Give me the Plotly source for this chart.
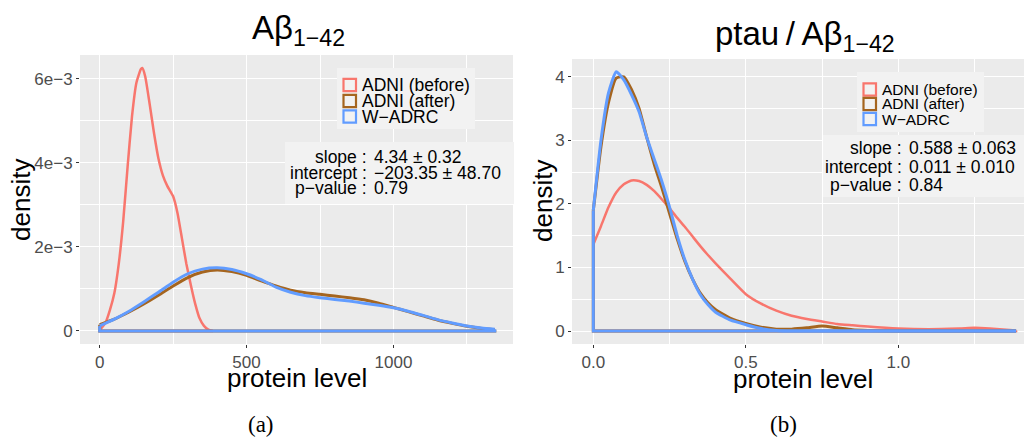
import plotly.graph_objects as go

W, H = 1024, 440

# ---------------- data ----------------
series_names = ["ADNI (before)", "ADNI (after)", "W\u2212ADRC"]
series_colors = ["#F8766D", "#A5651F", "#619CFF"]
series_widths = [2.5, 3, 3]

# Panel (a): Abeta 1-42
a_x_before = [0, 20, 35, 50, 65, 80, 95, 110, 125, 140, 145, 155, 170, 185, 200, 215, 230,
              250, 265, 280, 295, 310, 325, 340, 355, 370, 385]
a_y_before = [0.02, 0.2, 0.5, 0.9, 1.6, 2.6, 3.9, 5.1, 5.9, 6.22, 6.25, 6.05, 5.4, 4.7, 4.1,
              3.7, 3.45, 3.2, 2.8, 2.2, 1.6, 1.1, 0.65, 0.3, 0.12, 0.03, 0.0]
a_x_grid = [0, 50, 100, 150, 200, 250, 300, 350, 400, 450, 500, 550, 600, 650, 700, 750, 800,
            850, 900, 950, 1000, 1050, 1100, 1150, 1200, 1250, 1300, 1345]
a_y_after = [0.15, 0.28, 0.45, 0.64, 0.85, 1.07, 1.27, 1.40, 1.45, 1.41, 1.32, 1.19, 1.07,
             0.97, 0.91, 0.87, 0.83, 0.79, 0.74, 0.66, 0.56, 0.46, 0.36, 0.26, 0.18, 0.11,
             0.06, 0.03]
a_y_wadrc = [0.12, 0.28, 0.47, 0.69, 0.92, 1.16, 1.36, 1.47, 1.50, 1.46, 1.36, 1.22, 1.04,
             0.92, 0.84, 0.79, 0.75, 0.71, 0.66, 0.61, 0.55, 0.47, 0.37, 0.27, 0.19, 0.12,
             0.07, 0.04]
a_scale = 1e-3

# Panel (b): ptau / Abeta 1-42
b_x_grid = [0, 0.025, 0.05, 0.075, 0.1, 0.125, 0.15, 0.175, 0.2, 0.225, 0.25, 0.275, 0.3,
            0.325, 0.35, 0.375, 0.4, 0.45, 0.5, 0.55, 0.6, 0.65, 0.7, 0.75, 0.8, 0.85, 0.9,
            1.0, 1.1, 1.2, 1.25, 1.3, 1.386]
b_y_before = [1.36, 1.65, 1.95, 2.18, 2.31, 2.37, 2.36, 2.30, 2.20, 2.07, 1.93, 1.78, 1.64,
              1.49, 1.34, 1.20, 1.07, 0.82, 0.58, 0.43, 0.32, 0.24, 0.19, 0.15, 0.11, 0.09,
              0.07, 0.04, 0.03, 0.04, 0.05, 0.04, 0.01]
b_y_after = [1.9, 2.9, 3.6, 3.98, 4.0, 3.8, 3.5, 3.05, 2.62, 2.25, 1.85, 1.45, 1.1, 0.82,
             0.6, 0.45, 0.34, 0.2, 0.12, 0.06, 0.03, 0.03, 0.05, 0.08, 0.05, 0.02, 0.01,
             0.0, 0.0, 0.0, 0.0, 0.0, 0.0]
b_y_wadrc = [1.9, 3.0, 3.75, 4.08, 3.95, 3.72, 3.45, 3.05, 2.7, 2.35, 1.95, 1.5, 1.12, 0.82,
             0.58, 0.42, 0.3, 0.17, 0.1, 0.04, 0.01, 0.0, 0.0, 0.0, 0.0, 0.0, 0.0, 0.0, 0.0,
             0.0, 0.0, 0.0, 0.0]

a_xticks = [0, 500, 1000]
a_xticktext = ["0", "500", "1000"]
a_yticks = [0, 2e-3, 4e-3, 6e-3]
a_yticktext = ["0", "2e\u22123", "4e\u22123", "6e\u22123"]
b_xticks = [0, 0.5, 1.0]
b_xticktext = ["0.0", "0.5", "1.0"]
b_yticks = [0, 1, 2, 3, 4]
b_yticktext = ["0", "1", "2", "3", "4"]

a_stats_labels = ["slope :", "intercept :", "p\u2212value :"]
a_stats_values = ["4.34 \u00b1 0.32", "\u2212203.35 \u00b1 48.70", "0.79"]
b_stats_labels = ["slope :", "intercept :", "p\u2212value :"]
b_stats_values = ["0.588 \u00b1 0.063", "0.011 \u00b1 0.010", "0.84"]

FONT = "Liberation Sans, Arial, sans-serif"


def px(x):
    return x / W


def py(y):
    return 1 - y / H


fig = go.Figure()

a_sets = [(a_x_before, a_y_before), (a_x_grid, a_y_after), (a_x_grid, a_y_wadrc)]
b_sets = [(b_x_grid, b_y_before), (b_x_grid, b_y_after), (b_x_grid, b_y_wadrc)]


def add_density(xs, ys, scale, i, xa, ya):
    yy = [v * scale for v in ys]
    # the density curve
    fig.add_trace(go.Scatter(x=list(xs), y=yy, mode="lines", name=series_names[i],
                             line=dict(color=series_colors[i], width=series_widths[i],
                                       shape="spline", smoothing=0.5),
                             xaxis=xa, yaxis=ya, showlegend=False))
    # the closing outline (vertical ends + baseline)
    fig.add_trace(go.Scatter(x=[xs[-1], xs[-1], xs[0], xs[0]], y=[yy[-1], 0, 0, yy[0]],
                             mode="lines", name=series_names[i],
                             line=dict(color=series_colors[i], width=series_widths[i]),
                             xaxis=xa, yaxis=ya, showlegend=False))


for i, (xs, ys) in enumerate(a_sets):
    add_density(xs, ys, a_scale, i, "x", "y")
for i, (xs, ys) in enumerate(b_sets):
    add_density(xs, ys, 1.0, i, "x2", "y2")

axis_common = dict(showline=False, zeroline=False, showgrid=True, gridcolor="white",
                   gridwidth=1.4, ticks="outside", ticklen=3, tickwidth=1,
                   tickcolor="#333333", tickfont=dict(family=FONT, size=17, color="#4D4D4D"),
                   tickmode="array")

fig.update_layout(
    width=W, height=H, margin=dict(l=0, r=0, t=0, b=0),
    paper_bgcolor="white", plot_bgcolor="#EBEBEB", showlegend=False,
    xaxis=dict(domain=[px(80), px(513)], range=[-67, 1407], tickvals=a_xticks,
               ticktext=a_xticktext, anchor="y",
               minor=dict(tickmode="array", tickvals=[250, 750, 1250], showgrid=True,
                          gridcolor="white", gridwidth=0.6, ticks=""),
               **axis_common),
    yaxis=dict(domain=[py(344), py(55)], range=[-0.31e-3, 6.56e-3], tickvals=a_yticks,
               ticktext=a_yticktext, anchor="x",
               minor=dict(tickmode="array", tickvals=[1e-3, 3e-3, 5e-3], showgrid=True,
                          gridcolor="white", gridwidth=0.6, ticks=""),
               **axis_common),
    xaxis2=dict(domain=[px(572), 1.0], range=[-0.0699, 1.412], tickvals=b_xticks,
                ticktext=b_xticktext, anchor="y2",
                minor=dict(tickmode="array", tickvals=[0.25, 0.75, 1.25], showgrid=True,
                           gridcolor="white", gridwidth=0.6, ticks=""),
                **axis_common),
    yaxis2=dict(domain=[py(344), py(59)], range=[-0.204, 4.28], tickvals=b_yticks,
                ticktext=b_yticktext, anchor="x2",
                minor=dict(tickmode="array", tickvals=[0.5, 1.5, 2.5, 3.5], showgrid=True,
                           gridcolor="white", gridwidth=0.6, ticks=""),
                **axis_common),
)

shapes = []
annotations = []


def text(x, y, s, size, xanchor="center", yanchor="middle", color="black", family=FONT, angle=0):
    annotations.append(dict(x=px(x), y=py(y), xref="paper", yref="paper", text=s,
                            showarrow=False, xanchor=xanchor, yanchor=yanchor,
                            font=dict(family=family, size=size, color=color), textangle=angle))


def box(x0, y0, x1, y1, fill="#F2F2F2"):
    shapes.append(dict(type="rect", xref="paper", yref="paper", x0=px(x0), x1=px(x1),
                       y0=py(y1), y1=py(y0), fillcolor=fill, line=dict(width=0), layer="above"))


def legend(x0, y0, x1, y1, sq_x, ys, size):
    box(x0, y0, x1, y1)
    for i, yy in enumerate(ys):
        shapes.append(dict(type="rect", xref="paper", yref="paper", x0=px(sq_x + 1), x1=px(sq_x + 13.5),
                           y0=py(yy + 6.2), y1=py(yy - 6.2), line=dict(color=series_colors[i], width=2.2),
                           fillcolor="rgba(0,0,0,0)", layer="above"))
        text(sq_x + 17, yy, series_names[i], size, xanchor="left")


legend(337, 68, 475, 129, 342.5, [85, 101, 116.5], 17.5)
legend(857, 72, 984, 132, 862.5, [89.5, 104, 119], 15.5)

# stats boxes
box(285, 142, 514, 204)
for lab, val, yy in zip(a_stats_labels, a_stats_values, [157, 173, 188]):
    text(369, yy, lab, 17.5, xanchor="right")
    text(372, yy, val, 17.5, xanchor="left")
box(823, 135, 1024, 197)
for lab, val, yy in zip(b_stats_labels, b_stats_values, [147.5, 166.5, 185]):
    text(904, yy, lab, 17.5, xanchor="right")
    text(907, yy, val, 17.5, xanchor="left")

# titles
text(298, 30, "A\u03b2<sub>1\u221242</sub>", 33)
text(805, 36, "ptau\u2009/\u2009A\u03b2<sub>1\u221242</sub>", 33)

# axis titles
text(21, 200, "density", 26, angle=-90)
text(543, 201, "density", 26, angle=-90)
text(297, 378, "protein level", 26)
text(803, 379, "protein level", 26)

# panel labels
text(261, 424, "(a)", 23, family="Liberation Serif, DejaVu Serif, serif")
text(783, 424, "(b)", 23, family="Liberation Serif, DejaVu Serif, serif")

fig.update_layout(shapes=shapes, annotations=annotations)
fig.write_html("out.html", config={"displayModeBar": False},
               post_script="document.body.style.margin='0';document.body.style.overflow='hidden';")
